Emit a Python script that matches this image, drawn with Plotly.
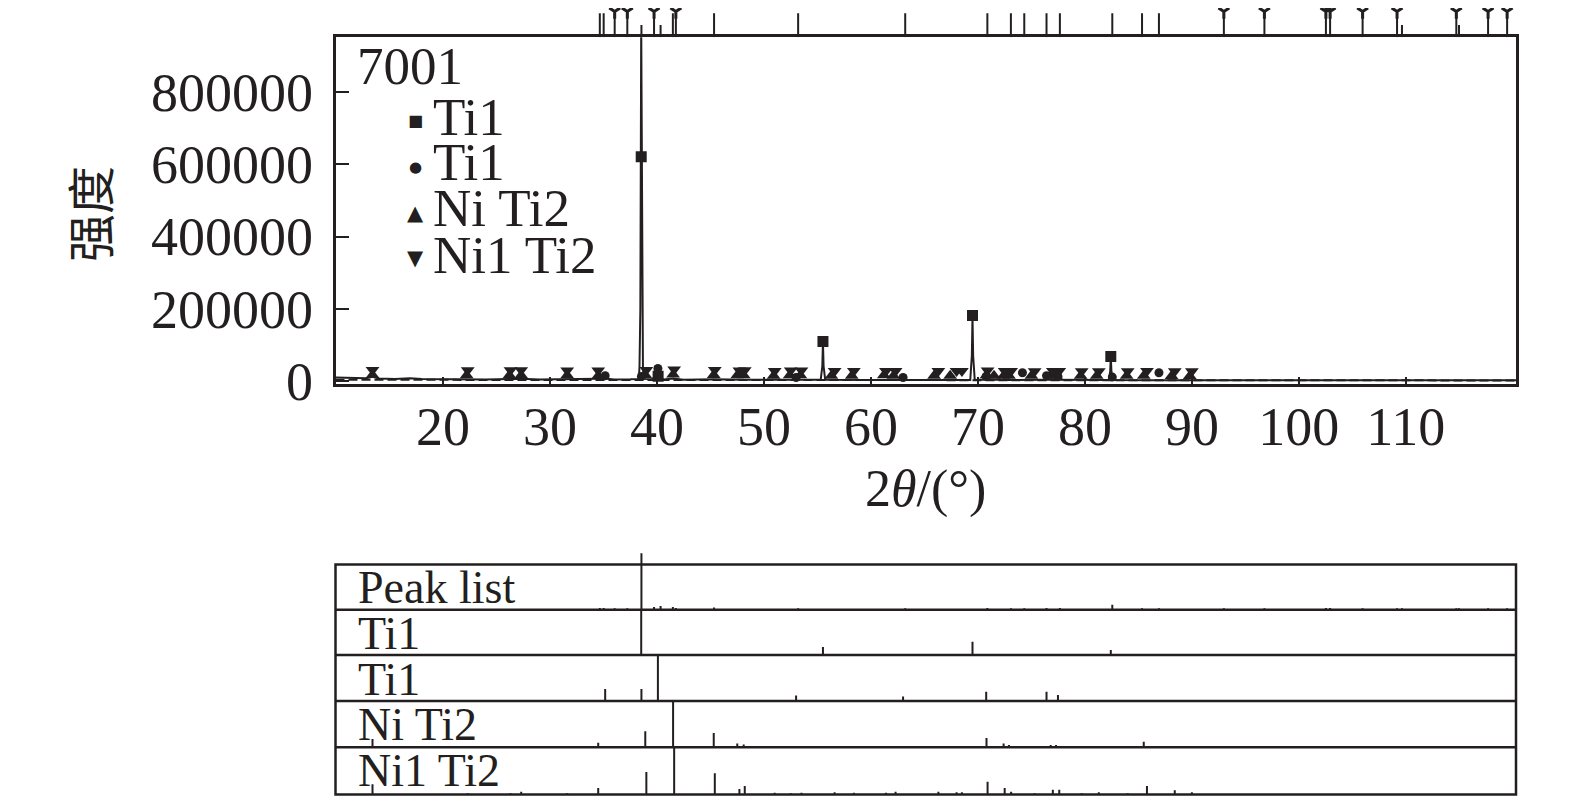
import plotly.graph_objects as go

# the page body adds an 8px margin, so the figure is 16px smaller than the window
PAD = 8
W, H = 1575 - 2 * PAD, 805 - 2 * PAD
INK = "#231f20"
SERIF = "Liberation Serif"

x_range = [9.94, 120.3]
y_range = [-8300, 953000]
x_ticks = [20, 30, 40, 50, 60, 70, 80, 90, 100, 110]
y_ticks = [0, 200000, 400000, 600000, 800000]

# measured scan (2theta, counts)
scan_x = [9.94, 11.0, 12.0, 12.8, 13.4, 14.0, 15.5, 16.9, 18.0, 20.0,
          22.2, 24.0, 26.2, 27.3, 29.0, 31.6, 33.0, 34.5, 35.1, 36.0,
          37.5, 38.30, 38.36, 38.44, 38.52, 38.60, 38.68, 38.75, 39.5, 40.08,
          40.6, 41.5, 42.5, 45.3, 48.0, 53.0, 55.30, 55.45, 55.51, 55.57,
          55.72, 60.0, 63.0, 66.0, 69.28, 69.43, 69.49, 69.55, 69.70, 70.8,
          73.0, 76.4, 79.0, 82.22, 82.36, 82.42, 82.48, 82.62, 86.0, 90.0,
          95.0, 100.0, 105.0, 110.0, 115.0, 120.3]
scan_y = [9000, 8000, 7000, 7000, 11000, 6000, 5000, 6500, 4500, 4000,
          5500, 3500, 5000, 5500, 3200, 4000, 3000, 5500, 6000, 3500,
          4000, 5000, 40000, 200000, 990000, 200000, 40000, 5000, 4000, 16000,
          3500, 6000, 3000, 4000, 2500, 3000, 2500, 40000, 108000, 40000,
          2500, 2000, 2500, 2000, 2000, 70000, 181000, 70000, 2000, 3500,
          2000, 3000, 1800, 1800, 25000, 67000, 25000, 1800, 1600, 1500,
          1400, 1300, 1300, 1200, 1200, 1100]

# background
bg_x = [9.94, 20, 30, 40, 50, 60, 80, 100, 120.3]
bg_y = [2500, 2200, 2000, 1700, 1400, 1200, 1000, 900, 800]

# peak list
peak_pos = [34.65, 35.01, 36.04, 37.22, 38.54, 39.72, 40.33, 41.48, 41.76, 45.33,
            53.19, 63.20, 70.88, 73.08, 74.33, 76.41, 77.66, 82.56, 85.34, 86.92,
            92.99, 96.78, 102.53, 102.92, 105.96, 109.18, 109.64, 114.72, 114.97, 117.69,
            119.47]
peak_rel = [4, 4, 3, 3, 125, 6, 8, 6, 4, 5,
            3, 3, 4, 3, 3, 4, 4, 11, 3, 3,
            3, 3, 4, 4, 3, 3, 3, 3, 3, 3,
            3]
peak_mark = [0.68, 0.68, 0.73, 0.73, 0.35, 0.73, 0.35, 0.68, 0.73, 0.68,
             0.68, 0.68, 0.68, 0.68, 0.68, 0.68, 0.68, 0.68, 0.68, 0.68,
             0.73, 0.73, 0.73, 0.73, 0.73, 0.73, 0.35, 0.73, 0.35, 0.73,
             0.73]

# Ti1 (square)
ti1a_pos = [38.52, 40.10, 55.51, 69.49, 82.42]
ti1a_rel = [100, 2, 17.5, 29.2, 10.8]
ti1a_y = [621000, 12400, 108500, 181000, 67000]

# Ti1 (circle)
ti1b_pos = [35.15, 38.54, 40.08, 53.0, 63.0, 70.77, 74.16, 76.41, 77.48, 82.56, 86.92]
ti1b_rel = [26, 26, 100, 12, 10, 20, 2, 20, 13, 2, 2]
ti1b_y = [14000, 12000, 34000, 9000, 9000, 12000, 22000, 14000, 12000, 10000, 22000]

# Ni Ti2 (triangle up)
niti2_pos = [13.4, 22.2, 26.2, 27.3, 31.6, 34.5, 38.9, 41.5, 45.3, 47.5,
             48.1, 50.9, 52.4, 53.4, 56.3, 58.2, 61.2, 62.1, 65.9, 67.4,
             70.8, 71.5, 72.4, 72.9, 75.0, 76.8, 77.3, 79.6, 81.1, 83.9,
             85.5, 88.1, 89.8]
niti2_rel = [18, 2, 2, 3, 2, 10, 35, 100, 31, 8,
             6, 2, 2, 3, 3, 2, 3, 2, 2, 2,
             20, 3, 8, 5, 2, 5, 5, 2, 2, 2,
             12, 2, 2]
niti2_y = [16000, 15000, 15000, 15000, 15000, 14000, 16000, 17000, 16000, 15000,
           15000, 14000, 15000, 15000, 14000, 14000, 15000, 14000, 14000, 14000,
           15000, 14000, 14000, 14000, 14000, 14000, 14000, 14000, 14000, 14000,
           14000, 13000, 13000]

# Ni1 Ti2 (triangle down)
ni1ti2_pos = [13.4, 22.3, 26.3, 27.3, 31.6, 34.5, 39.0, 41.6, 45.4, 47.7,
              48.2, 51.0, 52.5, 53.5, 56.6, 58.4, 61.4, 62.3, 66.3, 68.0,
              68.5, 70.9, 72.5, 73.1, 75.3, 77.0, 77.6, 79.7, 81.3, 84.0,
              85.8, 88.4, 90.0]
ni1ti2_rel = [22, 3, 3, 6, 3, 14, 48, 100, 45, 12,
              18, 4, 3, 4, 5, 4, 4, 6, 6, 5,
              5, 27, 14, 6, 3, 10, 10, 3, 5, 3,
              18, 9, 5]
ni1ti2_y = [30000, 29000, 29000, 29000, 28000, 28000, 30000, 31000, 30000, 28000,
            29000, 27000, 28000, 28000, 27000, 27000, 27000, 27000, 27000, 27000,
            27000, 28000, 27000, 27000, 26000, 27000, 27000, 26000, 26000, 26000,
            27000, 26000, 26000]


def sticks(pos, h):
    xs, ys = [], []
    for p, v in zip(pos, h):
        xs += [p, p, None]
        ys += [0, v, None]
    return xs, ys


def py(px):
    return 1 - (px - PAD) / H


def pxx(px):
    return (px - PAD) / W


X0, X1 = pxx(335.5), pxx(1516)

fig = go.Figure()

# main plot
fig.add_trace(go.Scatter(x=bg_x, y=bg_y, mode="lines",
                         line=dict(color=INK, width=2, dash="9px,4px")))
fig.add_trace(go.Scatter(x=scan_x, y=scan_y, mode="lines",
                         line=dict(color=INK, width=2)))
fig.add_trace(go.Scatter(x=niti2_pos, y=niti2_y, mode="markers",
                         marker=dict(symbol="triangle-up", size=12, color=INK)))
fig.add_trace(go.Scatter(x=ni1ti2_pos, y=ni1ti2_y, mode="markers",
                         marker=dict(symbol="triangle-down", size=12, color=INK)))
fig.add_trace(go.Scatter(x=ti1b_pos, y=ti1b_y, mode="markers",
                         marker=dict(symbol="circle", size=9, color=INK)))
fig.add_trace(go.Scatter(x=ti1a_pos, y=ti1a_y, mode="markers",
                         marker=dict(symbol="square", size=11, color=INK)))

# peak marks above the frame
sx, sy = sticks(peak_pos, peak_mark)
fig.add_trace(go.Scatter(x=sx, y=sy, mode="lines", line=dict(color=INK, width=2),
                         xaxis="x2", yaxis="y2"))
ypos = [p for p, m in zip(peak_pos, peak_mark) if m > 0.7]
ymk = [m for m in peak_mark if m > 0.7]
fig.add_trace(go.Scatter(x=ypos, y=ymk, mode="markers", xaxis="x2", yaxis="y2",
                         cliponaxis=False,
                         marker=dict(symbol="y-down", size=9,
                                     line=dict(color=INK, width=3))))

# stick panels
panels = [
    ("Peak list", peak_pos, peak_rel, 553.0, 609.7, 125.4, 587),
    ("Ti1", ti1a_pos, ti1a_rel, 609.7, 654.9, 100, 633),
    ("Ti1", ti1b_pos, ti1b_rel, 654.9, 701.1, 100, 679),
    ("Ni Ti2", niti2_pos, niti2_rel, 701.1, 747.3, 100, 724),
    ("Ni1 Ti2", ni1ti2_pos, ni1ti2_rel, 747.3, 794.6, 100, 770),
]

layout = dict(
    width=W, height=H, margin=dict(l=0, r=0, t=0, b=0, autoexpand=False),
    paper_bgcolor="white", plot_bgcolor="white", showlegend=False,
    font=dict(family=SERIF, color=INK),
    xaxis=dict(domain=[X0, X1], range=x_range, tickvals=x_ticks, automargin=False,
               showline=True, mirror=True, linewidth=2.5, linecolor=INK,
               ticks="inside", ticklen=7, tickwidth=2, tickcolor=INK,
               showgrid=False, zeroline=False, ticklabelstandoff=-6,
               tickfont=dict(size=54, family=SERIF, color=INK)),
    yaxis=dict(domain=[py(383.7), py(37.2)], range=y_range, tickvals=y_ticks,
               tickformat="d", automargin=False,
               showline=True, mirror=True, linewidth=2.5, linecolor=INK,
               ticks="inside", ticklen=14, tickwidth=2, tickcolor=INK,
               showgrid=False, zeroline=False, ticklabelstandoff=9,
               tickfont=dict(size=54, family=SERIF, color=INK)),
    xaxis2=dict(domain=[X0, X1], range=x_range, visible=False, anchor="y2",
                automargin=False),
    yaxis2=dict(domain=[py(37.2), py(PAD)], range=[0, (37.2 - PAD) / (37.2 - 2)],
                visible=False, anchor="x2", automargin=False),
)

annotations = []
for i, (name, pos, rel, top, bot, ymax, ly) in enumerate(panels):
    k = i + 3
    sx, sy = sticks(pos, rel)
    fig.add_trace(go.Scatter(x=sx, y=sy, mode="lines",
                             line=dict(color=INK, width=2),
                             xaxis="x%d" % k, yaxis="y%d" % k))
    layout["xaxis%d" % k] = dict(domain=[X0, X1], range=x_range, visible=False,
                                 anchor="y%d" % k, automargin=False)
    layout["yaxis%d" % k] = dict(domain=[py(bot), py(top)], range=[0, ymax],
                                 visible=False, anchor="x%d" % k, automargin=False)
    annotations.append(dict(text=name, x=pxx(356), y=py(ly), xref="paper", yref="paper",
                            xanchor="left", yanchor="middle", showarrow=False,
                            font=dict(size=46, family=SERIF, color=INK)))

# panel frames
shapes = [dict(type="rect", xref="paper", yref="paper", x0=X0, x1=X1,
               y0=py(794.6), y1=py(564.5), line=dict(color=INK, width=2.5))]
for b in [609.7, 654.9, 701.1, 747.3]:
    shapes.append(dict(type="line", xref="paper", yref="paper", x0=X0, x1=X1,
                       y0=py(b), y1=py(b), line=dict(color=INK, width=2.5)))

# legend
annotations.append(dict(text="7001", x=pxx(355), y=py(66), xref="paper", yref="paper",
                        xanchor="left", yanchor="middle", showarrow=False,
                        font=dict(size=53, family=SERIF, color=INK)))
legend_rows = [("■", "Ti1", 121, 117, 16), ("●", "Ti1", 167, 162, 15),
               ("▲", "Ni Ti2", 212.5, 208, 21), ("▼", "Ni1 Ti2", 258, 255, 21)]
for sym, txt, sy_, ty, fs in legend_rows:
    annotations.append(dict(text=sym, x=pxx(415), y=py(sy_), xref="paper", yref="paper",
                            xanchor="center", yanchor="middle", showarrow=False,
                            font=dict(size=fs, family="DejaVu Sans", color=INK)))
    annotations.append(dict(text=txt, x=pxx(431), y=py(ty), xref="paper", yref="paper",
                            xanchor="left", yanchor="middle", showarrow=False,
                            font=dict(size=53, family=SERIF, color=INK)))

# axis titles
annotations.append(dict(text="2<i>θ</i>/(°)", x=pxx(925), y=py(489), xref="paper",
                        yref="paper", xanchor="center", yanchor="middle", showarrow=False,
                        font=dict(size=52, family=SERIF, color=INK)))
annotations.append(dict(text="强度", x=pxx(88), y=py(214), xref="paper", yref="paper",
                        xanchor="center", yanchor="middle", showarrow=False, textangle=-90,
                        font=dict(size=48, family="Noto Sans CJK SC", color=INK)))

layout["annotations"] = annotations
layout["shapes"] = shapes
fig.update_layout(**layout)

fig.write_html("out.html")
